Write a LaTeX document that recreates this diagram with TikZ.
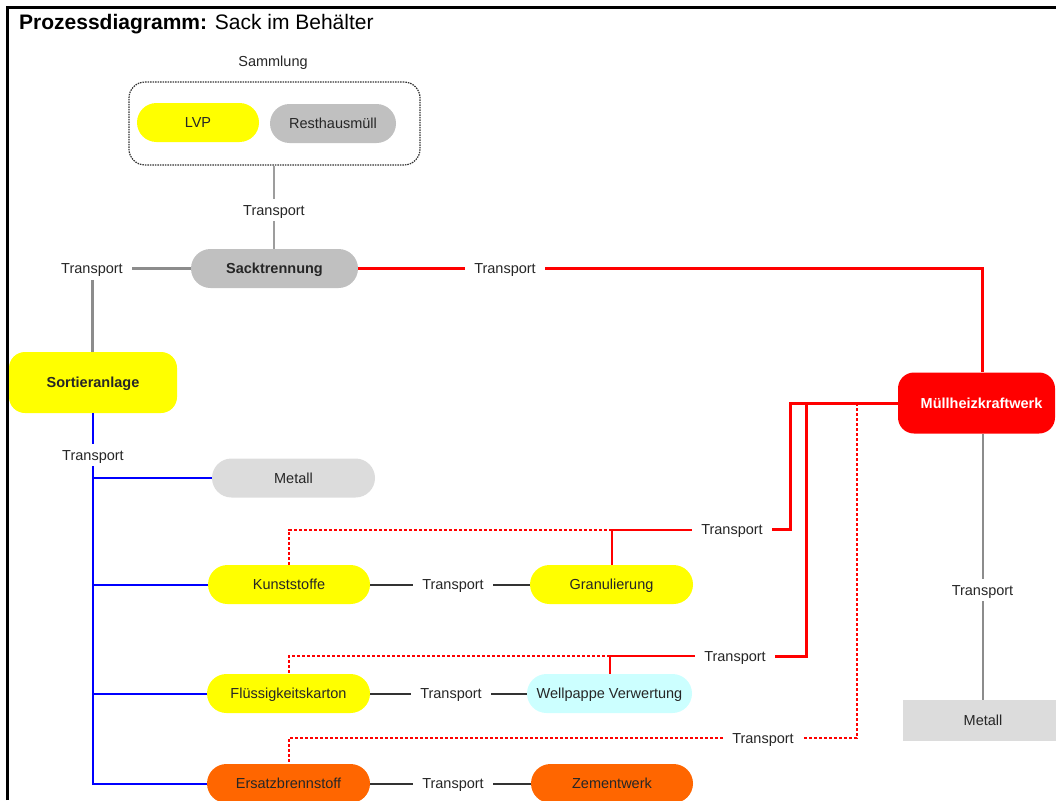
\documentclass[tikz,border=0pt]{standalone}
\usepackage{fontspec}
\setmainfont{Liberation Sans}
\usetikzlibrary{calc}

\definecolor{txt}{HTML}{262626}
\definecolor{pillyellow}{HTML}{FFFF00}
\definecolor{pillgray}{HTML}{C0C0C0}
\definecolor{pilllight}{HTML}{DCDCDC}
\definecolor{pillcyan}{HTML}{CCFFFF}
\definecolor{pillorange}{HTML}{FF6600}
\definecolor{plantred}{HTML}{FF0000}
\definecolor{linegray}{HTML}{8C8C8C}
\definecolor{linedark}{HTML}{333333}

\newcommand\labelfont{\fontsize{14.5}{17}\selectfont}

\tikzset{
  pill/.style={rounded corners=19.5pt, minimum height=39pt, inner sep=0pt,
               font=\labelfont, text=txt, text height=10.5pt, text depth=0pt},
  plantbox/.style={rounded corners=16pt, minimum height=61pt, inner sep=0pt,
               font=\labelfont\bfseries, text=txt, text height=10.5pt, text depth=0pt},
  tlabel/.style={font=\labelfont, text=txt, inner xsep=9.5pt, inner ysep=6pt,
               text height=10.5pt, text depth=0pt},
  grayline/.style={draw=linegray, line width=3pt},
  thingray/.style={draw=linegray!85, line width=1.5pt},
  blueline/.style={draw=blue, line width=2pt},
  darkline/.style={draw=linedark, line width=2pt},
  redthick/.style={draw=plantred, line width=3pt},
  redthin/.style={draw=plantred, line width=2pt},
  reddash/.style={draw=plantred, line width=2pt, dash pattern=on 3pt off 2pt},
}

\begin{document}
\begin{tikzpicture}[x=1pt, y=-1pt]
\useasboundingbox (0,0) rectangle (1056,800);

% frame and heading
\draw[line width=2.2pt] (7.5,800) -- (7.5,7.5) -- (1056,7.5);
\node[anchor=base west, font=\fontsize{21}{25}\selectfont, text=black, inner sep=0pt]
  (title) at (19,30) {\textbf{Prozessdiagramm:} Sack im Behälter};

% collection
\node[font=\labelfont, text=txt] (sammlabel) at (273,63) {Sammlung};
\node[draw=linedark, line width=1.2pt, dash pattern=on 1.5pt off 1pt,
      rounded corners=16pt, minimum width=291pt, minimum height=83pt]
  (samm) at (274.5,123.5) {};
\node[pill, fill=pillyellow, minimum width=122pt] (lvp) at (198,122.5) {LVP};
\node[pill, fill=pillgray, minimum width=126pt] (rest) at (333,123.5) {Resthausmüll};

% bag separation
\node[pill, fill=pillgray, minimum width=167pt, font=\labelfont\bfseries]
  (sack) at (274.5,268.5) {Sacktrennung};
\node[tlabel] (t1) at (274,210) {Transport};
\node[tlabel] (t2) at (92,268.5) {Transport};
\node[tlabel] (t3) at (505,268.5) {Transport};

% sorting plant and incineration plant
\node[plantbox, fill=pillyellow, minimum width=168pt] (sort) at (93,382.5) {Sortieranlage};
\node[plantbox, fill=plantred, text=white, minimum width=157pt]
  (muell) at (976.5,403) {\hspace*{10pt}Müllheizkraftwerk};

% sorted fractions
\node[tlabel] (t4) at (93,455) {Transport};
\node[pill, fill=pilllight, minimum width=163pt] (metl) at (293.5,478) {Metall};
\node[pill, fill=pillyellow, minimum width=162pt] (kunst) at (289,584.5) {Kunststoffe};
\node[tlabel] (t5) at (453,584.5) {Transport};
\node[pill, fill=pillyellow, minimum width=163pt] (gran) at (611.5,584.5) {Granulierung};
\node[pill, fill=pillyellow, minimum width=163pt] (flues) at (288.5,693.5) {Flüssigkeitskarton};
\node[tlabel] (t6) at (451,693.5) {Transport};
\node[pill, fill=pillcyan, minimum width=165pt] (well) at (609.5,693.5) {Wellpappe Verwertung};
\node[pill, fill=pillorange, minimum width=163pt] (ersatz) at (288.5,783.5) {Ersatzbrennstoff};
\node[tlabel] (t7) at (453,783.5) {Transport};
\node[pill, fill=pillorange, minimum width=162pt] (zement) at (612,783.5) {Zementwerk};

% residues to incineration
\node[tlabel] (t9) at (732,529.5) {Transport};
\node[tlabel] (t10) at (735,656) {Transport};
\node[tlabel] (t11) at (763,738) {Transport};

% metal from incineration
\node[tlabel] (t8) at (982.5,590) {Transport};
\node[fill=pilllight, minimum width=160pt, minimum height=41pt, inner sep=0pt,
      font=\labelfont, text=txt, text height=10.5pt, text depth=0pt]
  (metr) at (983,720.5) {Metall};

% connectors: collection and bag separation
\draw[thingray] (samm.south -| t1) -- (t1.north);
\draw[thingray] (t1.south) -- (sack.north -| t1);
\draw[grayline] (sack.west) -- (t2.east);
\draw[grayline] (t2.south) -- (sort.north -| t2);
\draw[redthick] (sack.east) -- (t3.west);
\draw[redthick] (t3.east) -| (t8 |- muell.north);

% connectors: sorting plant
\draw[blueline] (sort.south -| t4) -- (t4.north);
\draw[blueline] (t4.south) |- (metl.west);
\draw[blueline] (t4.south) |- (kunst.west);
\draw[blueline] (t4.south) |- (flues.west);
\draw[blueline] (t4.south) |- (ersatz.west);

\draw[darkline] (kunst.east) -- (t5.west);
\draw[darkline] (t5.east) -- (gran.west);
\draw[darkline] (flues.east) -- (t6.west);
\draw[darkline] (t6.east) -- (well.west);
\draw[darkline] (ersatz.east) -- (t7.west);
\draw[darkline] (t7.east) -- (zement.west);

% connectors: incineration plant
\coordinate (ja) at (790,403);
\coordinate (jb) at (806,403);
\coordinate (jc) at (857,403);
\draw[redthick] (muell.west) -- (ja) |- (t9.east);
\draw[redthick] (jb) |- (t10.east);
\draw[reddash] (jc) |- (t11.east);

\coordinate (ga) at (gran.north |- t9);
\draw[reddash] (ga) -| (kunst.north);
\draw[redthin] (t9.west) -- (ga) -- (gran.north);

\coordinate (gb) at (well.north |- t10);
\draw[reddash] (gb) -| (flues.north);
\draw[redthin] (t10.west) -- (gb) -- (well.north);

\draw[reddash] (t11.west) -| (ersatz.north);

\draw[draw=linegray, line width=2pt] (t8 |- muell.south) -- (t8.north);
\draw[draw=linegray, line width=2pt] (t8.south) -- (t8 |- metr.north);
\end{tikzpicture}
\end{document}
